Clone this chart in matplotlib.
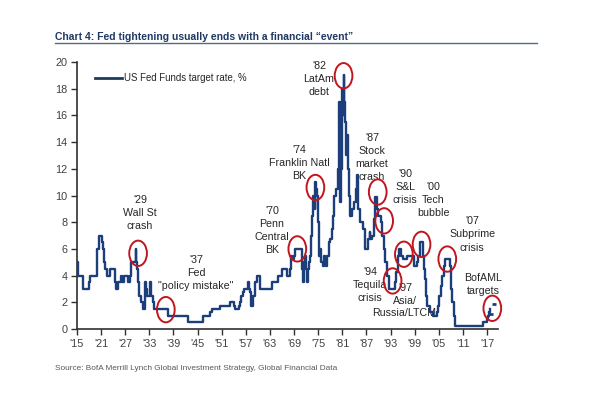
import matplotlib
matplotlib.use("Agg")
import matplotlib.pyplot as plt
from matplotlib import font_manager
from matplotlib.patches import Ellipse
from matplotlib.lines import Line2D

# Fed funds / discount rate history (year, %)
years = [1915.0, 1915.3, 1916.6, 1917.9, 1918.3, 1919.9, 1920.1, 1920.4, 1921.3, 1921.5,
         1921.6, 1921.7, 1921.9, 1922.5, 1923.1, 1924.4, 1924.5, 1924.6, 1925.1, 1926.0,
         1926.3, 1926.6, 1927.6, 1928.1, 1928.4, 1928.5, 1929.6, 1929.8, 1929.9, 1930.1,
         1930.2, 1930.4, 1930.5, 1930.9, 1931.4, 1931.8, 1931.85, 1932.1, 1932.4, 1933.2,
         1933.3, 1933.4, 1933.8, 1934.1, 1937.7, 1942.7, 1946.4, 1948.0, 1948.6, 1950.6,
         1953.1, 1954.1, 1954.3, 1955.3, 1955.6, 1955.7, 1955.9, 1956.3, 1956.6, 1957.6,
         1957.9, 1958.1, 1958.2, 1958.3, 1958.7, 1958.9, 1959.2, 1959.4, 1959.7, 1960.4,
         1960.6, 1963.5, 1964.9, 1965.9, 1967.3, 1967.9, 1968.2, 1968.3, 1968.6, 1968.95,
         1969.3, 1970.9, 1971.0, 1971.2, 1971.4, 1971.6, 1971.9, 1972.1, 1972.4, 1972.8,
         1973.0, 1973.2, 1973.5, 1973.6, 1973.9, 1974.1, 1974.3, 1974.5, 1974.7, 1974.9,
         1975.1, 1975.3, 1975.5, 1975.8, 1976.1, 1976.4, 1976.7, 1977.0, 1977.3, 1977.7,
         1978.0, 1978.4, 1978.7, 1979.0, 1979.5, 1979.8, 1980.05, 1980.2, 1980.35, 1980.5,
         1980.7, 1980.85, 1981.0, 1981.15, 1981.3, 1981.45, 1981.6, 1981.8, 1982.0, 1982.2,
         1982.5, 1982.7, 1983.0, 1983.4, 1983.8, 1984.3, 1984.6, 1984.9, 1985.3, 1985.8,
         1986.2, 1986.6, 1987.0, 1987.5, 1987.8, 1987.9, 1988.3, 1988.8, 1989.1, 1989.5,
         1989.9, 1990.5, 1990.9, 1991.3, 1991.7, 1992.0, 1992.6, 1994.1, 1994.4, 1994.9,
         1995.1, 1995.6, 1996.1, 1997.2, 1998.8, 1998.9, 1999.5, 1999.9, 2000.3, 2000.4,
         2001.0, 2001.2, 2001.5, 2001.8, 2001.95, 2002.9, 2003.5, 2004.5, 2004.8, 2005.1,
         2005.5, 2005.9, 2006.3, 2006.5, 2007.7, 2007.9, 2008.1, 2008.3, 2008.8, 2008.95,
         2015.95, 2016.95, 2017.2, 2017.45, 2017.8]
rates = [5.0, 4.0, 3.0, 3.5, 4.0, 4.75, 6.0, 7.0, 6.5, 6.0,
         5.5, 5.0, 4.5, 4.0, 4.5, 4.0, 3.5, 3.0, 3.5, 4.0,
         3.5, 4.0, 3.5, 4.0, 4.5, 5.0, 6.0, 5.0, 4.5, 4.0,
         3.5, 3.0, 2.5, 2.0, 1.5, 2.5, 3.5, 3.0, 2.5, 3.5,
         3.0, 2.5, 2.0, 1.5, 1.0, 0.5, 1.0, 1.25, 1.5, 1.75,
         2.0, 1.75, 1.5, 1.75, 2.0, 2.25, 2.5, 2.75, 3.0, 3.5,
         3.0, 2.75, 2.25, 1.75, 2.0, 2.5, 3.0, 3.5, 4.0, 3.5,
         3.0, 3.5, 4.0, 4.5, 4.0, 4.5, 5.0, 5.5, 5.25, 5.5,
         6.0, 5.0, 4.5, 3.5, 5.0, 5.5, 4.5, 3.5, 4.5, 5.0,
         5.5, 7.0, 8.5, 10.0, 10.0, 9.0, 11.0, 10.5, 10.0, 8.0,
         6.5, 5.5, 6.0, 5.0, 4.75, 5.5, 5.0, 4.75, 5.5, 6.5,
         6.75, 7.5, 8.5, 10.0, 10.5, 12.0, 14.0, 17.0, 12.5, 9.5,
         12.0, 15.0, 18.0, 16.0, 19.0, 17.0, 15.5, 14.0, 13.0, 14.5,
         12.0, 10.0, 8.5, 9.0, 9.5, 10.5, 11.5, 9.0, 8.0, 8.0,
         7.5, 6.0, 6.0, 6.75, 7.25, 6.75, 7.0, 8.25, 9.9, 9.0,
         8.5, 8.0, 7.0, 6.0, 5.0, 4.0, 3.0, 3.5, 4.25, 5.5,
         6.0, 5.5, 5.25, 5.5, 5.0, 4.75, 5.0, 5.5, 6.0, 6.5,
         5.5, 4.5, 3.75, 2.5, 1.75, 1.25, 1.0, 1.25, 1.75, 2.5,
         3.25, 4.0, 4.75, 5.25, 4.75, 4.25, 3.0, 2.0, 1.0, 0.25,
         0.5, 0.75, 1.0, 1.25, 1.5]

target_years = [2018.0, 2018.8]
target_rates = [1.1, 1.9]

tick_years = list(range(1915, 2018, 6))
tick_labels = ["'%02d" % (y % 100) for y in tick_years]

event_labels = ["'29\nWall St\ncrash", "'37\nFed\n\"policy mistake\"", "'70\nPenn\nCentral\nBK",
                "'74\nFranklin Natl\nBK", "'82\nLatAm\ndebt", "'87\nStock\nmarket\ncrash",
                "'90\nS&L\ncrisis", "'00\nTech\nbubble", "'07\nSubprime\ncrisis",
                "BofAML\ntargets", "'94\nTequila\ncrisis", "'97\nAsia/", "Russia/LTCM"]
label_pos = [(1930.7, 8.69), (1944.6, 4.16), (1963.5, 7.38), (1970.2, 12.4), (1975.2, 18.76),
             (1988.4, 12.85), (1996.6, 10.64), (2003.6, 9.66), (2013.3, 7.08), (2016.0, 3.33),
             (1987.9, 3.3), (1996.6, 2.6), (1996.3, 1.18)]
circle_pos = [(1930.2, 5.67), (1937.1, 1.45), (1969.8, 6.0), (1974.3, 10.6), (1981.3, 18.97),
              (1989.8, 10.26), (1991.4, 8.1), (1993.5, 3.6), (1996.3, 5.6), (2000.7, 6.34),
              (2007.1, 5.24), (2018.3, 1.55)]

# use a narrow face when one is installed, otherwise shrink the regular one
installed = {f.name for f in font_manager.fontManager.ttflist}
if 'Liberation Sans Narrow' in installed:
    fam, k = 'Liberation Sans Narrow', 1.0
else:
    fam, k = 'Liberation Sans', 0.87
plt.rcParams['font.family'] = [fam, 'DejaVu Sans']

fig = plt.figure(figsize=(6.08, 4.0), dpi=100)
ax = fig.add_axes([0.1266, 0.1775, 0.6924, 0.6675])

line_col = '#1c3f7c'
ax.plot(years, rates, drawstyle='steps-post', color=line_col, lw=1.7, zorder=3)
ax.plot(target_years, target_rates, ls='none', marker='_', ms=3, mew=2, color=line_col,
        zorder=3, clip_on=False)

for (cx, cy) in circle_pos:
    ax.add_patch(Ellipse((cx, cy), 4.4, 1.9, fill=False, ec='#c0161e', lw=1.4, zorder=4,
                         clip_on=False))

for txt, (tx, ty) in zip(event_labels, label_pos):
    ax.text(tx, ty, txt, ha='center', va='center', multialignment='center',
            fontsize=8.8 * k, color='#262626', linespacing=1.2 / k, zorder=2)

ax.set_xlim(1915, 2019.7)
ax.set_ylim(0, 20)
ax.set_xticks(tick_years)
ax.set_xticklabels(tick_labels)
ax.set_yticks(range(0, 21, 2))
for s in ['top', 'right']:
    ax.spines[s].set_visible(False)
for s in ['left', 'bottom']:
    ax.spines[s].set_color('#303030')
    ax.spines[s].set_linewidth(1.2)
ax.tick_params(axis='both', direction='out', length=4, width=1, color='#303030',
               labelsize=9 * k, labelcolor='#404040', pad=3)

# legend drawn by hand like the original
ax.add_line(Line2D([0.043, 0.108], [0.94, 0.94], transform=ax.transAxes, color='#1f3b5c', lw=2))
ax.text(0.111, 0.94, 'US Fed Funds target rate, %', transform=ax.transAxes, va='center',
        ha='left', fontsize=8.0 * k, color='#262626')

fig.text(0.0905, 0.9075, 'Chart 4: Fed tightening usually ends with a financial \u201cevent\u201d',
         fontsize=8.6 * k, fontweight='bold', color='#1f3864', va='center')
fig.add_artist(Line2D([0.0905, 0.883], [0.8925, 0.8925], transform=fig.transFigure,
                      color='#4d6b8a', lw=1))
fig.text(0.0905, 0.08, 'Source: BofA Merrill Lynch Global Investment Strategy, Global Financial Data',
         fontsize=6.8 * k, color='#595959', va='center')

fig.savefig('out.png', dpi=100)
